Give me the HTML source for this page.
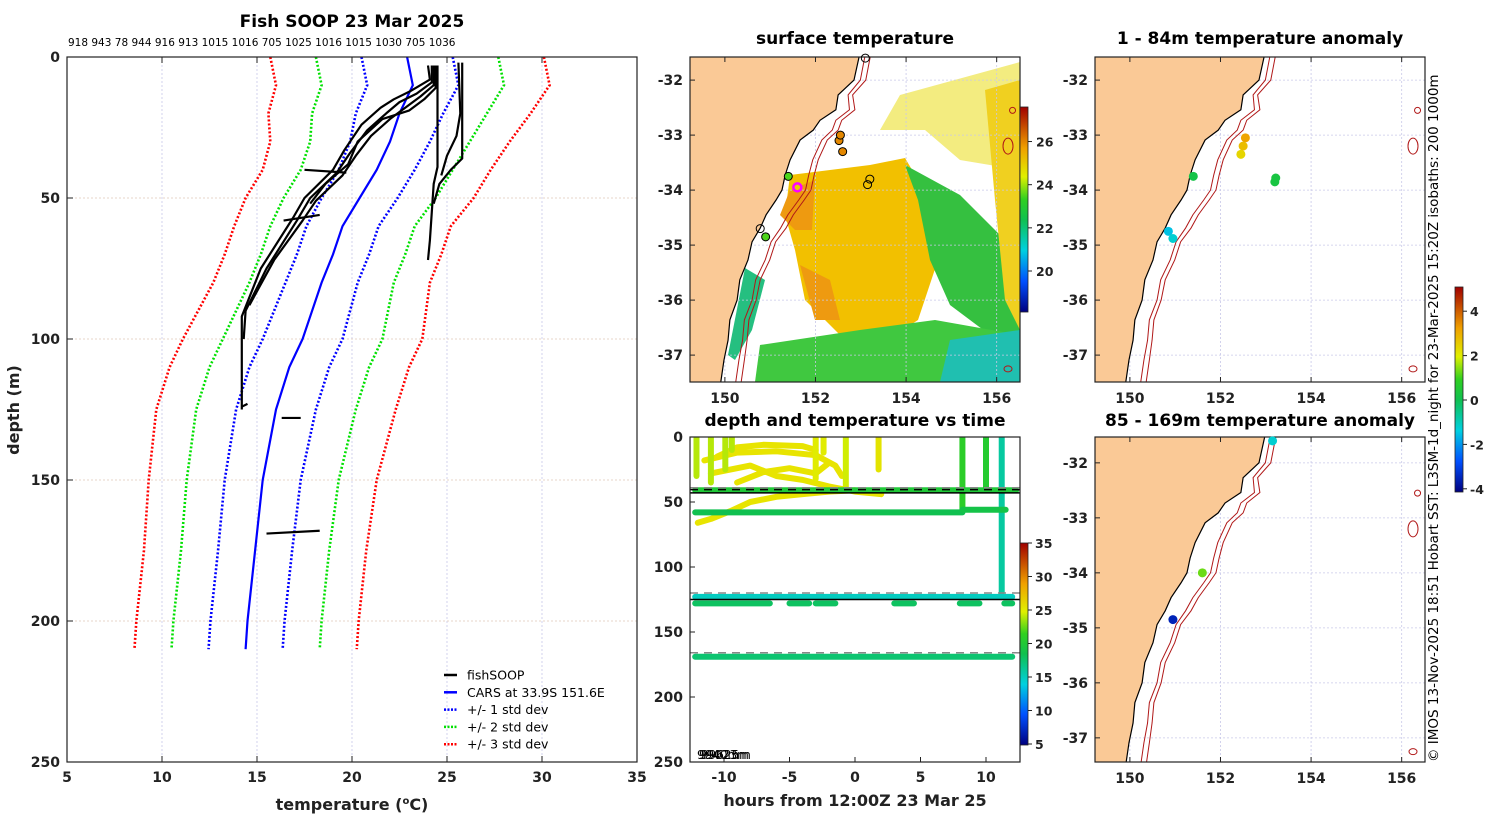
<!DOCTYPE html>
<html><head><meta charset="utf-8">
<style>
html,body{margin:0;padding:0;background:#fff;}
svg{display:block;font-family:"DejaVu Sans","Liberation Sans",sans-serif;}
.tk{font-size:14px;font-weight:bold;fill:#222;}
.ttl{font-size:17px;font-weight:bold;fill:#000;}
</style></head>
<body>
<svg id="fig" width="1500" height="820" viewBox="0 0 1500 820" xmlns="http://www.w3.org/2000/svg">
<defs>
<clipPath id="cpL"><rect x="67" y="57" width="570" height="705"/></clipPath>
<clipPath id="cpM"><rect x="690" y="57" width="330" height="325"/></clipPath>
<clipPath id="cpR1"><rect x="1095" y="57" width="330" height="325"/></clipPath>
<clipPath id="cpR2"><rect x="1095" y="437" width="330" height="325"/></clipPath>
<clipPath id="cpT"><rect x="690" y="437" width="330" height="325"/></clipPath>
<linearGradient id="jet" x1="0" y1="1" x2="0" y2="0">
<stop offset="0" stop-color="#000080"/><stop offset="0.15" stop-color="#0050ff"/>
<stop offset="0.3" stop-color="#00d0e0"/><stop offset="0.45" stop-color="#10c050"/>
<stop offset="0.55" stop-color="#30d020"/><stop offset="0.66" stop-color="#e0f000"/>
<stop offset="0.8" stop-color="#f0a000"/><stop offset="1" stop-color="#a00000"/>
</linearGradient>
</defs>
<g id="root"></g>
</svg>
<script>
// ---------- data: left profile panel ----------
const carsDepth=[0,10,20,30,40,50,60,70,80,90,100,110,125,150,175,200,210];
const carsMean=[22.9,23.2,22.5,22.0,21.3,20.4,19.5,19.0,18.4,17.9,17.4,16.7,16.0,15.3,14.9,14.5,14.4];
const carsStd=[2.4,2.4,2.3,2.1,2.0,2.0,1.9,1.9,1.9,2.0,2.1,2.1,2.1,2.0,1.95,1.95,1.95];
const fishProfiles=[
 [[24.0,3],[24.1,8],[23.1,12],[22.2,15],[21.5,18],[20.5,24],[19.6,33],[19.0,40],[17.5,50],[16.9,57],[15.2,75],[14.2,92],[14.2,125]],
 [[24.2,3],[24.2,9],[23.4,13],[22.5,16],[21.8,20],[20.8,26],[19.9,34],[19.2,41],[17.8,50],[17.1,58],[15.5,75],[14.4,90],[14.3,100]],
 [[24.3,3],[24.3,10],[23.6,14],[22.8,18],[22.0,22],[21.0,28],[20.2,35],[19.5,42],[18.1,51],[17.4,58],[15.9,72],[14.6,88]],
 [[24.4,3],[24.4,11],[23.8,15],[23.0,19],[21.6,22],[20.3,30],[19.8,38],[18.6,45],[17.8,52]],
 [[24.5,3],[24.5,39],[24.3,45],[24.2,55],[24.1,65],[24.0,72]],
 [[25.8,2],[25.8,36],[25.2,40],[24.6,45],[24.3,52]],
 [[25.6,2],[25.7,20],[25.5,28],[25.0,35],[24.7,42]],
 [[17.5,40],[19.7,41]],[[16.4,58],[18.3,56]],[[16.3,128],[17.3,128]],[[15.5,169],[18.3,168]],[[14.2,124],[14.5,123]]
];
const tempTicks=[5,10,15,20,25,30,35];
const depthTicks=[0,50,100,150,200,250];
const topLabels="918 943 78 944 916 913 1015 1016 705 1025 1016 1015 1030 705 1036";
// ---------- data: maps ----------
const coastLon=[153.01,152.85,152.50,152.45,152.10,151.95,151.66,151.44,151.33,151.26,151.13,150.91,150.78,150.60,150.51,150.33,150.27,150.11,150.07,149.98,149.89];
const coastLat=[-31.4,-32.0,-32.27,-32.54,-32.73,-32.91,-33.09,-33.45,-33.73,-34.0,-34.18,-34.45,-34.69,-34.94,-35.27,-35.63,-36.0,-36.36,-36.73,-37.09,-37.6];
const iso200Off=[0.12,0.14,0.22,0.3,0.35,0.42,0.48,0.5,0.52,0.52,0.5,0.48,0.45,0.42,0.38,0.35,0.33,0.32,0.32,0.33,0.33];
const iso1000Off=[0.24,0.26,0.32,0.42,0.48,0.55,0.6,0.62,0.64,0.64,0.62,0.6,0.57,0.52,0.48,0.45,0.42,0.42,0.42,0.45,0.45];
const lonTicks=[150,152,154,156];
const latTicks=[-32,-33,-34,-35,-36,-37];
const sstLon=[153.1,152.52,152.55,152.6,151.4,151.6,150.9,150.78,153.2,153.15];
const sstLat=[-31.6,-33.1,-33.0,-33.3,-33.75,-33.95,-34.85,-34.7,-33.8,-33.9];
const sstVal=[null,26,26,26,23.5,25,23.5,null,null,null];
const anomLon=[151.4,152.55,152.5,152.45,153.22,153.2,150.85,150.95];
const anomLat=[-33.75,-33.05,-33.2,-33.35,-33.78,-33.85,-34.75,-34.88];
const anomVal=[0.2,3.2,2.8,2.4,0.3,0.3,-1.5,-1.2];
const anom2Lon=[153.15,151.6,150.95];
const anom2Lat=[-31.6,-34.0,-34.85];
const anom2Val=[-1.2,1.3,-3.5];
const sstTicks=[20,22,24,26];
const anomTicks=[-4,-2,0,2,4];
// ---------- data: time panel ----------
const hourTicks=[-10,-5,0,5,10];
const timeDepthTicks=[0,50,100,150,200,250];
const tdTicks=[5,10,15,20,25,30,35];
const hLines=[ // [t0,t1,depth,temp]
 [-12.2,12.3,41,20],[-12.2,8.2,58,18.5],[8.2,11.5,56,19],[-12.2,12,123,15],[-12.2,12,169,17.5],
 [-12.2,-6.5,128,18],[-5,-3.5,128,18],[-3,-1.5,128,18],[3,4.5,128,18],[8,9.5,128,18],[11.4,12,128,18]];
const vLines=[[8.2,0,57,21],[10,0,40,20.5],[11.2,0,120,16],[-12.1,0,30,24],[-11,0,35,24],[-9.9,0,25,24],[-9.4,0,10,24],[-3,0,32,25],[-2.4,0,12,25],[-0.7,0,40,24.5],[1.8,0,25,25.5]];
const yellowTraces=[
 [[-11.5,18],[-9,12],[-6,11],[-3,14],[-1.5,22],[-1,30]],
 [[-11,28],[-8,22],[-6,30],[-4,33],[-2,38],[0,42],[2,44]],
 [[-12,66],[-11,63],[-9.5,57],[-8,50],[-6,46],[-4,44],[-2,42],[0,41],[2,43]],
 [[-9,35],[-7,27],[-5,24],[-3,28],[-2,20]],
 [[-10.5,15],[-9,8],[-7,6],[-4,7],[-3,10]]];
const refDepths=[[39,'#888',true],[120,'#888',true],[166,'#888',true],[40.5,'#000',true],[43,'#000',false],[125,'#000',false]];

// ---------- helpers ----------
const NS="http://www.w3.org/2000/svg";
const root=document.getElementById('root');
function mk(tag,attrs,parent,text){const e=document.createElementNS(NS,tag);for(const k in attrs)e.setAttribute(k,attrs[k]);if(text!==undefined)e.textContent=text;(parent||root).appendChild(e);return e;}
function jet(f){const s=[[0,[0,0,128]],[0.15,[0,80,255]],[0.3,[0,208,224]],[0.45,[16,192,80]],[0.55,[48,208,32]],[0.66,[224,240,0]],[0.8,[240,160,0]],[1,[160,0,0]]];
 f=Math.max(0,Math.min(1,f));for(let i=1;i<s.length;i++){if(f<=s[i][0]){const a=s[i-1],b=s[i],u=(f-a[0])/(b[0]-a[0]);const c=a[1].map((v,j)=>Math.round(v+(b[1][j]-v)*u));return `rgb(${c})`;}}return 'rgb(160,0,0)';}

// ---------- LEFT PANEL ----------
const LX=t=>67+(t-5)*19, LY=d=>57+d*2.82;
const gL=mk('g',{});

tempTicks.forEach(t=>{const l=mk('line',{x1:LX(t),x2:LX(t),y1:57,y2:762,stroke:'#c8c8e8','stroke-width':0.8,'stroke-dasharray':'2,2'},gL);
 
 const tx=mk('text',{x:LX(t),y:782,'text-anchor':'middle',class:'tk'},gL,String(t));
 
 mk('line',{x1:LX(t),x2:LX(t),y1:762,y2:756,stroke:'#222'},gL);mk('line',{x1:LX(t),x2:LX(t),y1:57,y2:63,stroke:'#222'},gL);});
depthTicks.forEach(d=>{const l=mk('line',{x1:67,x2:637,y1:LY(d),y2:LY(d),stroke:'#e0c8b8','stroke-width':0.8,'stroke-dasharray':'2,2'},gL);
 
 const tx=mk('text',{x:60,y:LY(d)+5,'text-anchor':'end',class:'tk'},gL,String(d));
 
 mk('line',{x1:67,x2:73,y1:LY(d),y2:LY(d),stroke:'#222'},gL);});
const cl=mk('g',{'clip-path':'url(#cpL)'},gL);
const stdCols=[[3,'#ff0000'],[2,'#00e000'],[1,'#0000ff']];
stdCols.forEach(([k,c])=>{[-1,1].forEach(sg=>{const p=carsDepth.map((d,i)=>`${LX(carsMean[i]+sg*k*carsStd[i])},${LY(d)}`).join(' ');
 const e=mk('polyline',{points:p,fill:'none',stroke:c,'stroke-width':2.6,'stroke-dasharray':'2,2'},cl);
 });});
const cm=mk('polyline',{points:carsDepth.map((d,i)=>`${LX(carsMean[i])},${LY(d)}`).join(' '),fill:'none',stroke:'#0000ff','stroke-width':2.2},cl);

fishProfiles.forEach(pr=>{const e=mk('polyline',{points:pr.map(([t,d])=>`${LX(t)},${LY(d)}`).join(' '),fill:'none',stroke:'#000','stroke-width':2.2,'stroke-linejoin':'round'},cl);
 });
const fr=mk('rect',{x:67,y:57,width:570,height:705,fill:'none',stroke:'#222','stroke-width':1.2},gL);

const tl=mk('text',{x:352,y:27,'text-anchor':'middle',class:'ttl'},gL,'Fish SOOP 23 Mar 2025');

const tlb=mk('text',{x:68,y:46,'font-size':'10.5px',fill:'#000','font-family':'DejaVu Sans'},gL,topLabels);

const xt=mk('text',{x:352,y:810,'text-anchor':'middle','font-size':'16px','font-weight':'bold',fill:'#222'},gL);

xt.innerHTML='temperature (<tspan font-size="10" dy="-6">o</tspan><tspan dy="6">C)</tspan>';
const yt=mk('text',{x:0,y:0,'text-anchor':'middle','font-size':'16px','font-weight':'bold',fill:'#222',transform:'translate(19,410) rotate(-90)'},gL,'depth (m)');

const leg=mk('g',{},gL);
[['fishSOOP','#000',null],['CARS at 33.9S 151.6E','#0000ff',null],['+/- 1 std dev','#0000ff','2,1.5'],['+/- 2 std dev','#00e000','2,1.5'],['+/- 3 std dev','#ff0000','2,1.5']].forEach(([t,c,da],i)=>{
 const y=675+i*17.3;const ln=mk('line',{x1:444,x2:457,y1:y,y2:y,stroke:c,'stroke-width':2.5},leg);if(da)ln.setAttribute('stroke-dasharray',da);
 const tx=mk('text',{x:467,y:y+4.5,'font-size':'12.5px',fill:'#000'},leg,t);});

// ---------- MAPS ----------
function drawMap(x0,y0,latTop,clip,name,title,titleY){
 const MX=lon=>x0+(lon-149.23)*45.3, MY=lat=>y0+(latTop-lat)*55;
 const g=mk('g',{});
 const c=mk('g',{'clip-path':`url(#${clip})`},g);
 mk('rect',{x:x0,y:y0,width:330,height:325,fill:'#fff'},c);
 return {g,c,MX,MY,x0,y0,title,titleY};
}
function finishMap(m){
 const {g,c,MX,MY,x0,y0}=m;
 lonTicks.forEach(l=>{mk('line',{x1:MX(l),x2:MX(l),y1:y0,y2:y0+325,stroke:'#c8c8e8','stroke-width':0.8,'stroke-dasharray':'2,2'},c);
  mk('line',{x1:MX(l),x2:MX(l),y1:y0,y2:y0+5,stroke:'#222'},g);mk('line',{x1:MX(l),x2:MX(l),y1:y0+325,y2:y0+320,stroke:'#222'},g);
  const t=mk('text',{x:MX(l),y:y0+346,'text-anchor':'middle',class:'tk'},g,String(l));});
 latTicks.forEach(l=>{if(MY(l)<y0+2||MY(l)>y0+323)return;mk('line',{x1:x0,x2:x0+330,y1:MY(l),y2:MY(l),stroke:'#c8c8e8','stroke-width':0.8,'stroke-dasharray':'2,2'},c);
  mk('line',{x1:x0,x2:x0+5,y1:MY(l),y2:MY(l),stroke:'#222'},g);
  const t=mk('text',{x:x0-7,y:MY(l)+5,'text-anchor':'end',class:'tk'},g,String(l));});
 const pts=coastLon.map((lo,i)=>`${MX(lo)},${MY(coastLat[i])}`);
 const land=mk('polygon',{points:`${x0-5},${y0-5} `+pts.join(' ')+` ${x0-5},${y0+330}`,fill:'#fac996',stroke:'#000','stroke-width':1.2},c);
 
 [iso200Off,iso1000Off].forEach(off=>{const e=mk('polyline',{points:coastLon.map((lo,i)=>`${MX(lo+off[i])},${MY(coastLat[i])}`).join(' '),fill:'none',stroke:'#b01818','stroke-width':1},c);
  });
 [[156.25,-33.2,5,8],[156.35,-32.55,3,3],[156.25,-37.25,4,3]].forEach(([lo,la,rx,ry])=>{mk('ellipse',{cx:MX(lo),cy:MY(la),rx:rx,ry:ry,fill:'none',stroke:'#b01818','stroke-width':1},c);});
 const f=mk('rect',{x:x0,y:y0,width:330,height:325,fill:'none',stroke:'#222','stroke-width':1.2},g);
 
 const t=mk('text',{x:x0+165,y:m.titleY,'text-anchor':'middle',class:'ttl'},g,m.title);
}
const mS=drawMap(690,57,-31.58,'cpM','sst-map','surface temperature',44);
(function(){const c=mS.c;
 const blobs=[
  ['#f3ec80',[[900,95],[1020,62],[1020,170],[960,160],[925,130],[880,130]]],
  ['#f2c000',[[790,175],[870,165],[905,158],[930,200],[938,260],[918,320],[880,345],[840,335],[805,300],[795,250],[785,215]]],
  ['#ee9a10',[[790,190],[815,180],[812,230],[795,230],[780,215]]],
  ['#ee9a10',[[800,265],[830,280],[840,320],[815,320]]],
  ['#35c040',[[905,165],[960,195],[1000,235],[1020,250],[1020,345],[990,335],[950,305],[930,260],[918,200]]],
  ['#40c840',[[760,345],[860,330],[935,320],[1020,335],[1020,382],[755,382]]],
  ['#20bfb0',[[950,340],[1020,330],[1020,382],[940,382]]],
  ['#25bf80',[[745,268],[765,280],[752,330],[735,360],[728,355]]],
  ['#f0d020',[[985,90],[1020,80],[1020,330],[1005,300],[995,200]]]];
 blobs.forEach(([col,p])=>{const e=mk('polygon',{points:p.map(a=>a.join(',')).join(' '),fill:col},c);});
})();
finishMap(mS);
sstLon.forEach((lo,i)=>{const v=sstVal[i];const e=mk('circle',{cx:mS.MX(lo),cy:mS.MY(sstLat[i]),r:4,fill:v===null?'none':jet((v-18.1)/9.5),stroke:i===5?'#ff00ff':'#000','stroke-width':i===5?2.5:1},mS.g);
 });
(function(){const g=mk('g',{});
 mk('rect',{x:1020,y:107,width:8,height:205,fill:'url(#jet)',stroke:'#222','stroke-width':0.8},g);
 const CY=v=>312-(v-18.1)/9.5*205;
 sstTicks.forEach(v=>{mk('line',{x1:1028,x2:1032,y1:CY(v),y2:CY(v),stroke:'#222'},g);const t=mk('text',{x:1036,y:CY(v)+5,'font-size':'12.5px','font-weight':'bold',fill:'#222'},g,String(v));});})();
const mA=drawMap(1095,57,-31.58,'cpR1','anomaly-map-shallow','1 - 84m temperature anomaly',44);finishMap(mA);
anomLon.forEach((lo,i)=>{const e=mk('circle',{cx:mA.MX(lo),cy:mA.MY(anomLat[i]),r:4.5,fill:jet((anomVal[i]+4.1)/9.2)},mA.g);});
const mB=drawMap(1095,437,-31.53,'cpR2','anomaly-map-deep','85 - 169m temperature anomaly',426);finishMap(mB);
anom2Lon.forEach((lo,i)=>{const e=mk('circle',{cx:mB.MX(lo),cy:mB.MY(anom2Lat[i]),r:4.5,fill:jet((anom2Val[i]+4.1)/9.2)},mB.g);});
(function(){const g=mk('g',{});
 mk('rect',{x:1455,y:287,width:8,height:205,fill:'url(#jet)',stroke:'#222','stroke-width':0.8},g);
 const CY=v=>400-v*22.2;
 anomTicks.forEach(v=>{mk('line',{x1:1463,x2:1467,y1:CY(v),y2:CY(v),stroke:'#222'},g);const t=mk('text',{x:1470,y:CY(v)+5,'font-size':'12.5px','font-weight':'bold',fill:'#222'},g,String(v));});})();

// ---------- TIME PANEL ----------
(function(){const TX=h=>855+h*13.1, TY=d=>437+d*1.3, TC=v=>jet((v-5)/30);
 const g=mk('g',{});
 const c=mk('g',{'clip-path':'url(#cpT)'},g);
 yellowTraces.forEach(tr=>{const e=mk('polyline',{points:tr.map(([h,d])=>`${TX(h)},${TY(d)}`).join(' '),fill:'none',stroke:'#e8e400','stroke-width':6,'stroke-linecap':'round','stroke-linejoin':'round'},c);});
 vLines.forEach(([h,d0,d1,v])=>{const e=mk('line',{x1:TX(h),x2:TX(h),y1:TY(d0),y2:TY(d1),stroke:TC(v),'stroke-width':6,'stroke-linecap':'round'},c);});
 hLines.forEach(([h0,h1,d,v])=>{const e=mk('line',{x1:TX(h0),x2:TX(h1),y1:TY(d),y2:TY(d),stroke:TC(v),'stroke-width':6,'stroke-linecap':'round'},c);});
 refDepths.forEach(([d,col,dash])=>{const e=mk('line',{x1:690,x2:1020,y1:TY(d),y2:TY(d),stroke:col,'stroke-width':1.5},c);if(dash)e.setAttribute('stroke-dasharray','8,6');});
 hourTicks.forEach(h=>{mk('line',{x1:TX(h),x2:TX(h),y1:762,y2:757,stroke:'#222'},g);const t=mk('text',{x:TX(h),y:782,'text-anchor':'middle',class:'tk'},g,String(h));});
 timeDepthTicks.forEach(d=>{mk('line',{x1:690,x2:695,y1:TY(d),y2:TY(d),stroke:'#222'},g);const t=mk('text',{x:683,y:TY(d)+5,'text-anchor':'end',class:'tk'},g,String(d));});
 const f=mk('rect',{x:690,y:437,width:330,height:325,fill:'none',stroke:'#222','stroke-width':1.2},g);
 const t1=mk('text',{x:855,y:426,'text-anchor':'middle',class:'ttl'},g,'depth and temperature vs time');
 const t2=mk('text',{x:855,y:806,'text-anchor':'middle','font-size':'16px','font-weight':'bold',fill:'#222'},g,'hours from 12:00Z 23 Mar 25');
 ['9940m','99023m','99625m'].forEach((s,i)=>{const t=mk('text',{x:697+i*2,y:759,'font-size':'12px',fill:'#000'},g,s);});
 const cb=mk('g',{},g);
 mk('rect',{x:1020,y:543,width:8,height:202,fill:'url(#jet)',stroke:'#222','stroke-width':0.8},cb);
 tdTicks.forEach(v=>{const y=744-(v-5)/30*201;mk('line',{x1:1028,x2:1032,y1:y,y2:y,stroke:'#222'},cb);const t=mk('text',{x:1035,y:y+5,'font-size':'12.5px','font-weight':'bold',fill:'#222'},cb,String(v));});
})();
const cr=mk('text',{x:0,y:0,'font-size':'13.5px',fill:'#000',transform:'translate(1438,762) rotate(-90)'},root,'© IMOS 13-Nov-2025 18:51 Hobart SST: L3SM-1d_night for 23-Mar-2025 15:20Z isobaths: 200  1000m');

</script>
</body></html>
